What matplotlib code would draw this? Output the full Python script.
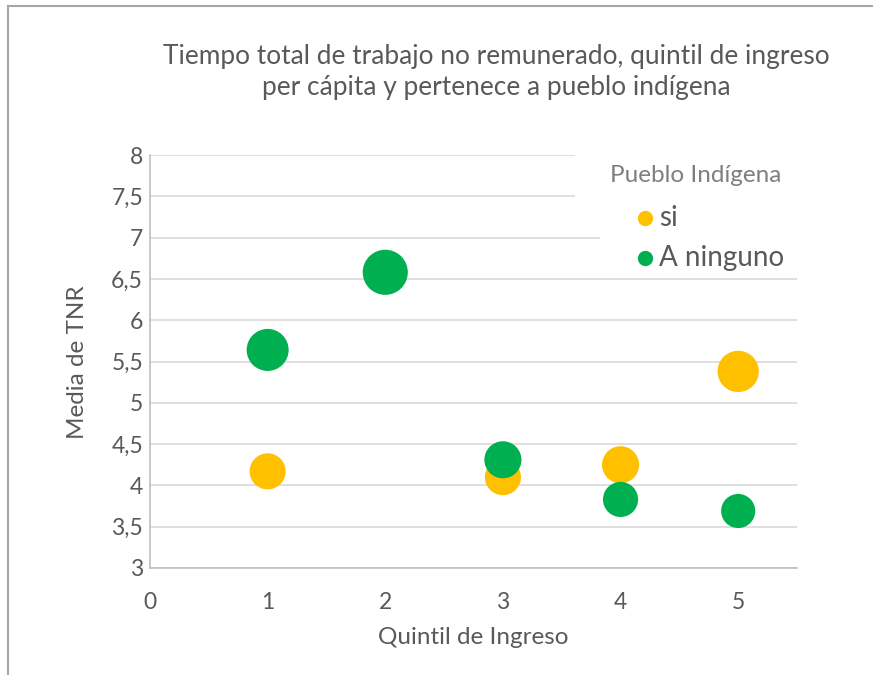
import matplotlib
matplotlib.use("Agg")
import matplotlib.pyplot as plt
from matplotlib.lines import Line2D
from matplotlib.patches import Rectangle

# Data
quintil_si = [1, 3, 4, 5]
tnr_si = [4.17, 4.10, 4.25, 5.38]
peso_si = [13.0, 13.0, 13.7, 17.0]

quintil_ninguno = [1, 2, 3, 4, 5]
tnr_ninguno = [5.64, 6.58, 4.31, 3.83, 3.69]
peso_ninguno = [17.6, 20.3, 13.7, 12.3, 11.6]

series_labels = ["si", "A ninguno"]
legend_title = "Pueblo Indígena"
x_ticks = [0, 1, 2, 3, 4, 5]
y_ticks = [3, 3.5, 4, 4.5, 5, 5.5, 6, 6.5, 7, 7.5, 8]

FONT = "Lato"
TXT = "#595959"
TXT_LIGHT = "#7F7F7F"
YEL = "#FFC000"
GRN = "#00B050"
W, H = 873, 675

plt.rcParams["font.family"] = [FONT, "DejaVu Sans"]

fig = plt.figure(figsize=(W / 100, H / 100), dpi=100)
ax = fig.add_axes([150 / W, 1 - 568 / H, (797 - 150) / W, (568 - 155) / H])


def fx(px):
    return px / W


def fy(py):
    return 1 - py / H


scale = 52.0  # bubble value -> marker area (pt^2)
ax.scatter(quintil_si, tnr_si, s=[p * scale for p in peso_si], color=YEL,
           edgecolors="none", zorder=3, label=series_labels[0])
ax.scatter(quintil_ninguno, tnr_ninguno, s=[p * scale for p in peso_ninguno], color=GRN,
           edgecolors="none", zorder=3, label=series_labels[1])

ax.set_xlim(0, 5.5)
ax.set_ylim(3, 8)
ax.set_xticks(x_ticks)
ax.set_yticks(y_ticks)
ax.set_xticklabels([str(v) for v in x_ticks])
ax.set_yticklabels([("%g" % v).replace(".", ",") for v in y_ticks])
ax.tick_params(axis="both", length=0, labelsize=16.5, colors=TXT)
ax.tick_params(axis="x", pad=17)
ax.tick_params(axis="y", pad=5)

ax.grid(axis="y", color="#D9D9D9", linewidth=1.2, zorder=0)
ax.set_axisbelow(True)
for side in ["top", "right"]:
    ax.spines[side].set_visible(False)
for side in ["left", "bottom"]:
    ax.spines[side].set_color("#BFBFBF")
    ax.spines[side].set_linewidth(1.2)

ax.set_xlabel("Quintil de Ingreso", fontsize=17.5, color=TXT)
ax.set_ylabel("Media de TNR", fontsize=17.5, color=TXT)
ax.xaxis.set_label_coords(fx(473), fy(638), transform=fig.transFigure)
ax.yaxis.set_label_coords(fx(77), fy(362), transform=fig.transFigure)
ax.xaxis.label.set_va("center")
ax.yaxis.label.set_va("center")

fig.text(fx(496), fy(72),
         "Tiempo total de trabajo no remunerado, quintil de ingreso\nper cápita y pertenece a pueblo indígena",
         ha="center", va="center", fontsize=18.9, color=TXT, linespacing=1.33)

# Legend (drawn manually to match layout)
fig.add_artist(Rectangle((fx(575), fy(222)), fx(797) - fx(575), fy(150) - fy(222),
                         transform=fig.transFigure, facecolor="white", edgecolor="none", zorder=2))
fig.add_artist(Rectangle((fx(600), fy(268)), fx(797) - fx(600), fy(222) - fy(268),
                         transform=fig.transFigure, facecolor="white", edgecolor="none", zorder=2))
fig.text(fx(610), fy(176), legend_title, ha="left", va="center", fontsize=17.5,
         color=TXT_LIGHT, zorder=3)
for lbl, col, ypx in [(series_labels[0], YEL, 218), (series_labels[1], GRN, 258)]:
    fig.add_artist(Line2D([fx(645)], [fy(ypx)], transform=fig.transFigure, marker="o",
                          linestyle="none", markersize=11, color=col, markeredgecolor="none", zorder=3))
    fig.text(fx(659), fy(ypx), lbl, ha="left", va="center", fontsize=20, color=TXT, zorder=3)

# Outer chart border (left and top visible)
fig.add_artist(Line2D([fx(8), fx(8)], [0, fy(6)], transform=fig.transFigure,
                      color="#A6A6A6", linewidth=1.5))
fig.add_artist(Line2D([fx(8), 1], [fy(6), fy(6)], transform=fig.transFigure,
                      color="#A6A6A6", linewidth=1.5))

fig.savefig("out.png", dpi=100, facecolor="white")
